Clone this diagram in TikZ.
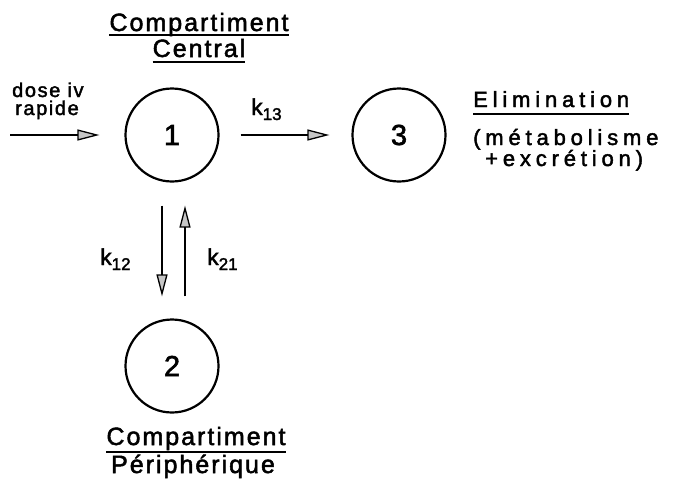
\documentclass[tikz,border=0pt]{standalone}
\usepackage{fontspec}
\setmainfont[FakeBold=2]{Liberation Sans}
\newfontfamily\lab[LetterSpace=8,FakeBold=2]{Liberation Sans}
\newfontfamily\labw[LetterSpace=22,FakeBold=2]{Liberation Sans}
\usetikzlibrary{arrows.meta}
\newcommand{\kk}[1]{k\raisebox{-5pt}{\fontsize{17}{17}\selectfont #1}}
\begin{document}
\begin{tikzpicture}[x=1pt,y=-1pt,
  comp/.style={circle,draw,line width=2.2pt,minimum size=93pt,inner sep=0pt,font=\fontsize{29}{29}\selectfont},
  txt/.style={inner sep=0pt,anchor=base},
  txtw/.style={inner sep=0pt,anchor=base west},
  flow/.style={line width=2.6pt,-{Triangle[length=22pt,width=11pt,fill=gray!45,line width=1.3pt]}},
  uline/.style={line width=1.6pt},
  title/.style={font=\lab\fontsize{25}{25}\selectfont},
  elim/.style={font=\labw\fontsize{22}{22}\selectfont},
  small/.style={font=\lab\fontsize{20}{20}\selectfont},
  klab/.style={font=\fontsize{23}{23}\selectfont}]
\useasboundingbox (0,0) rectangle (679,483);
% compartments
\node[comp] (c1) at (172,135) {1};
\node[comp] (c3) at (399,135) {3};
\node[comp] (c2) at (172,366) {2};
% top labels
\node[txt,title] (t1) at (199,31) {Compartiment};
\node[txt,title] (t2) at (199,57) {Central};
\draw[uline] ([yshift=-4pt]t1.base west) -- ([yshift=-4pt]t1.base east);
\draw[uline] ([yshift=-5pt]t2.base west) -- ([yshift=-5pt]t2.base east);
% dose
\node[txtw,small] (d1) at (12,97) {dose iv};
\node[txtw,small] (d2) at (15,115) {rapide};
\coordinate (d0) at (10,135);
\draw[flow,shorten >=25pt] (d0) -- (c1);
% k13
\node[txtw,klab] (k13) at (251,115) {\kk{13}};
\draw[flow,shorten <=21pt,shorten >=22pt] (c1) -- (c3);
% elimination
\node[txtw,elim] (e1) at (473,107) {Elimination};
\draw[uline] ([yshift=-7pt]e1.base west) -- ([yshift=-7pt]e1.base east);
\node[txtw,elim] (e2) at (473,145) {(métabolisme};
\node[txtw,elim] (e3) at (485,166) {+excrétion)};
% exchange
\draw[flow,shorten <=23pt,shorten >=22pt] ([xshift=-10pt]c1.south) -- ([xshift=-10pt]c2.north);
\draw[flow,shorten <=22pt,shorten >=23pt] ([xshift=13pt]c2.north) -- ([xshift=13pt]c1.south);
\node[txtw,klab] (k12) at (100,265) {\kk{12}};
\node[txtw,klab] (k21) at (207,265) {\kk{21}};
% bottom labels
\node[txt,title] (b1) at (196,445) {Compartiment};
\node[txt,title] (b2) at (193,473) {Périphérique};
\draw[uline] ([yshift=-7pt]b1.base west) -- ([yshift=-7pt]b1.base east);
\end{tikzpicture}
\end{document}
